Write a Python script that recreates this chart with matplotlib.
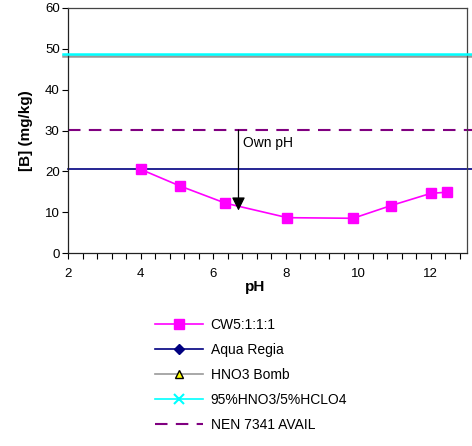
import matplotlib
matplotlib.use("Agg")
import matplotlib.pyplot as plt
from matplotlib.lines import Line2D
from matplotlib.ticker import MultipleLocator

plt.rcParams['font.family'] = ['Liberation Sans', 'DejaVu Sans']

# data
cw_ph = [4.0, 5.09, 6.34, 8.05, 9.86, 10.9, 12.0, 12.46]
cw_b = [20.5, 16.4, 12.2, 8.65, 8.5, 11.6, 14.6, 14.9]
aqua_regia = 20.5
hno3_bomb = 48.3
hno3_hclo4 = 48.7
nen7341 = 30.1
own_ph = 6.7
own_ph_start = 30.1
own_ph_end = 10.4

labels = ['CW5:1:1:1', 'Aqua Regia', 'HNO3 Bomb', '95%HNO3/5%HCLO4', 'NEN 7341 AVAIL']
colors = ['#FF00FF', '#000080', '#999999', '#00FFFF', '#800080']

W, H = 472, 446
fig = plt.figure(figsize=(W/100, H/100), dpi=100)
ax = fig.add_axes([68/W, 1-253/H, (467-68)/W, (253-8)/H])

ax.set_xlim(2, 13)
ax.set_ylim(0, 60)

x0, x1 = -0.012, 1.013
ax.axhline(hno3_bomb, xmin=x0, xmax=x1, color=colors[2], lw=1.8, clip_on=False, zorder=2)
ax.axhline(hno3_hclo4, xmin=x0, xmax=x1, color=colors[3], lw=1.8, clip_on=False, zorder=3)
ax.axhline(aqua_regia, xmin=0, xmax=x1, color=colors[1], lw=1.2, clip_on=False, zorder=2)
ax.axhline(nen7341, xmin=0, xmax=x1, color=colors[4], lw=1.5, ls=(0, (6, 4)), clip_on=False, zorder=2)

ax.plot(cw_ph, cw_b, color=colors[0], lw=1.2, marker='s', ms=7, zorder=4)

ax.annotate('', xy=(own_ph, own_ph_end), xytext=(own_ph, own_ph_start),
            arrowprops=dict(arrowstyle='-|>', color='black', lw=0.9,
                            mutation_scale=20, shrinkA=0, shrinkB=0), zorder=5)
ax.text(own_ph + 0.12, 26.9, 'Own pH', fontsize=10, va='center', ha='left')

ax.xaxis.set_major_locator(MultipleLocator(2))
ax.xaxis.set_minor_locator(MultipleLocator(0.4))
ax.yaxis.set_major_locator(MultipleLocator(10))
ax.tick_params(axis='x', which='both', direction='out', length=4, width=0.8, pad=7, labelsize=9.5)
ax.tick_params(axis='y', which='both', direction='out', length=4, width=0.8, pad=2, labelsize=9.5)
for s in ax.spines.values():
    s.set_linewidth(0.9)
    s.set_color('#222222')
ax.spines['top'].set_color('#444444')
ax.spines['right'].set_color('#444444')

ax.set_xlabel('pH', fontsize=11, fontweight='bold', labelpad=0)
ax.set_ylabel('[B] (mg/kg)', fontsize=11, fontweight='bold', labelpad=4)
ax.xaxis.set_label_coords((255-68)/(467-68), -(280-253)/(253-8))
ax.yaxis.set_label_coords(-(68-33)/(467-68), 0.5)

handles = [
    Line2D([], [], color=colors[0], lw=1.2, marker='s', ms=7),
    Line2D([], [], color=colors[1], lw=1.2, marker='D', ms=5),
    Line2D([], [], color=colors[2], lw=1.2, marker='^', ms=6, mfc='#FFFF00', mec='black'),
    Line2D([], [], color=colors[3], lw=1.2, marker='x', ms=7, mew=1.5),
    Line2D([], [], color=colors[4], lw=1.5, ls=(0, (6, 4))),
]
fig.legend(handles, labels, loc='upper left', bbox_to_anchor=(155/W, 1-318/H),
           frameon=False, fontsize=10, handlelength=3.45, handletextpad=0.55,
           labelspacing=0.79, borderaxespad=0, borderpad=0)

fig.savefig('out.png', dpi=100)
